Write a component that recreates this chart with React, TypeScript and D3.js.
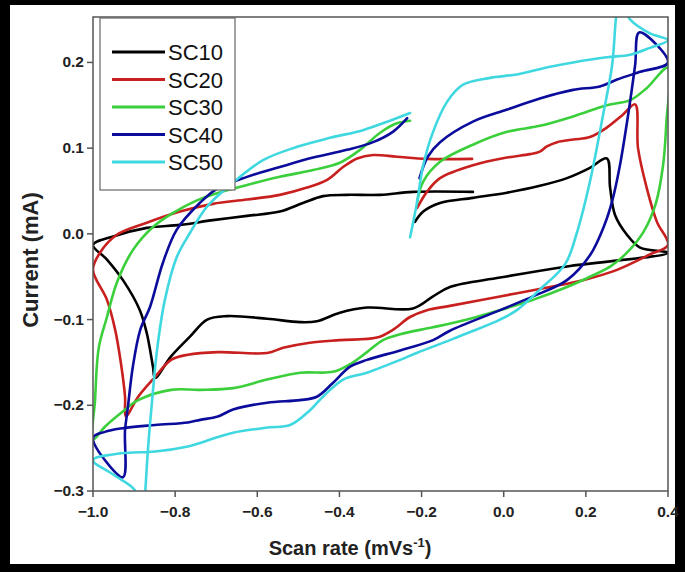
import React from "react";
import * as d3 from "d3";

const seriesNames = ["SC10", "SC20", "SC30", "SC40", "SC50"];
const seriesColors = ["#000000", "#c8201e", "#3ccf3c", "#0c0c9c", "#40d8e0"];

const xTicks = [-1.0, -0.8, -0.6, -0.4, -0.2, 0.0, 0.2, 0.4];
const yTicks = [0.2, 0.1, 0.0, -0.1, -0.2, -0.3];

const sc10: [number, number][] = [
  [-0.216, 0.014], [-0.196, 0.026], [-0.155, 0.036], [-0.075, 0.042], [0.008, 0.048], [0.088, 0.056],
  [0.154, 0.065], [0.21, 0.077], [0.251, 0.088], [0.259, 0.054], [0.271, 0.022], [0.3, -0.001],
  [0.332, -0.016], [0.4, -0.022], [0.154, -0.038], [-0.009, -0.051], [-0.131, -0.062], [-0.172, -0.073],
  [-0.221, -0.087], [-0.333, -0.086], [-0.399, -0.092], [-0.455, -0.102], [-0.496, -0.103], [-0.576, -0.099],
  [-0.674, -0.096], [-0.722, -0.1], [-0.764, -0.12], [-0.81, -0.143], [-0.849, -0.168], [-0.854, -0.155],
  [-0.869, -0.116], [-0.886, -0.089], [-0.927, -0.054], [-0.966, -0.03], [-1.0, -0.013], [-0.951, -0.003],
  [-0.869, 0.007], [-0.788, 0.0105], [-0.708, 0.016], [-0.625, 0.021], [-0.545, 0.026], [-0.489, 0.036],
  [-0.44, 0.044], [-0.382, 0.0455], [-0.301, 0.0455], [-0.221, 0.049], [-0.075, 0.049],
];

const sc20: [number, number][] = [
  [-0.211, 0.03], [-0.187, 0.049], [-0.155, 0.065], [-0.075, 0.08], [0.008, 0.089], [0.064, 0.093],
  [0.088, 0.096], [0.105, 0.102], [0.13, 0.107], [0.17, 0.11], [0.21, 0.113], [0.251, 0.124],
  [0.29, 0.139], [0.32, 0.151], [0.327, 0.1], [0.348, 0.054], [0.373, 0.014], [0.4, -0.013],
  [0.356, -0.024], [0.276, -0.042], [0.193, -0.054], [0.113, -0.062], [-0.009, -0.073], [-0.131, -0.084],
  [-0.187, -0.089], [-0.228, -0.097], [-0.27, -0.112], [-0.309, -0.121], [-0.399, -0.124], [-0.472, -0.127],
  [-0.537, -0.133], [-0.576, -0.139], [-0.696, -0.138], [-0.769, -0.141], [-0.81, -0.147], [-0.849, -0.167],
  [-0.89, -0.19], [-0.92, -0.213], [-0.922, -0.19], [-0.932, -0.151], [-0.946, -0.112], [-0.966, -0.077],
  [-1.0, -0.042], [-0.983, -0.022], [-0.942, -0.001], [-0.869, 0.013], [-0.788, 0.026], [-0.708, 0.035],
  [-0.625, 0.04], [-0.545, 0.0455], [-0.479, 0.054], [-0.43, 0.063], [-0.391, 0.078], [-0.357, 0.088],
  [-0.318, 0.092], [-0.26, 0.09], [-0.187, 0.0875], [-0.077, 0.0875],
];

const sc30: [number, number][] = [
  [-0.211, 0.037], [-0.196, 0.061], [-0.155, 0.084], [-0.075, 0.104], [0.008, 0.119], [0.088, 0.126],
  [0.169, 0.137], [0.251, 0.15], [0.308, 0.156], [0.348, 0.17], [0.4, 0.194], [0.396, 0.13],
  [0.388, 0.08], [0.37, 0.035], [0.34, 0.002], [0.3, -0.022], [0.26, -0.038], [0.21, -0.05],
  [0.154, -0.062], [0.071, -0.077], [-0.009, -0.089], [-0.089, -0.1], [-0.172, -0.109], [-0.252, -0.117],
  [-0.294, -0.124], [-0.333, -0.138], [-0.374, -0.152], [-0.416, -0.161], [-0.496, -0.162], [-0.576, -0.17],
  [-0.659, -0.18], [-0.739, -0.182], [-0.81, -0.182], [-0.89, -0.194], [-0.932, -0.209], [-0.971, -0.225],
  [-1.0, -0.24], [-0.995, -0.194], [-0.986, -0.133], [-0.966, -0.097], [-0.942, -0.057], [-0.903, -0.019],
  [-0.854, 0.008], [-0.805, 0.0245], [-0.747, 0.039], [-0.708, 0.046], [-0.625, 0.057], [-0.545, 0.0665],
  [-0.464, 0.0745], [-0.399, 0.083], [-0.35, 0.098], [-0.301, 0.118], [-0.26, 0.129], [-0.228, 0.132],
];

const sc40: [number, number][] = [
  [-0.205, 0.065], [-0.185, 0.09], [-0.155, 0.107], [-0.075, 0.131], [0.008, 0.145], [0.088, 0.158],
  [0.169, 0.168], [0.234, 0.172], [0.276, 0.18], [0.332, 0.189], [0.4, 0.2], [0.33, 0.235],
  [0.32, 0.197], [0.303, 0.139], [0.283, 0.08], [0.265, 0.04], [0.245, 0.01], [0.21, -0.025],
  [0.154, -0.054], [0.071, -0.073], [-0.009, -0.089], [-0.131, -0.113], [-0.172, -0.124], [-0.252, -0.136],
  [-0.333, -0.147], [-0.374, -0.155], [-0.416, -0.174], [-0.455, -0.19], [-0.496, -0.194], [-0.576, -0.197],
  [-0.659, -0.205], [-0.696, -0.213], [-0.739, -0.217], [-0.769, -0.22], [-0.849, -0.223], [-0.932, -0.227],
  [-0.971, -0.231], [-1.0, -0.238], [-0.927, -0.284], [-0.922, -0.229], [-0.915, -0.202], [-0.903, -0.155],
  [-0.885, -0.112], [-0.861, -0.085], [-0.83, -0.034], [-0.796, 0.005], [-0.74, 0.036], [-0.7, 0.052],
  [-0.625, 0.0665], [-0.545, 0.078], [-0.464, 0.089], [-0.382, 0.098], [-0.318, 0.107], [-0.27, 0.119],
  [-0.235, 0.135],
];

const sc50: [number, number][] = [
  [-0.228, -0.004], [-0.211, 0.037], [-0.196, 0.08], [-0.172, 0.119], [-0.138, 0.154], [-0.099, 0.174],
  [-0.033, 0.182], [0.032, 0.186], [0.113, 0.195], [0.169, 0.2], [0.251, 0.206], [0.308, 0.209],
  [0.356, 0.217], [0.4, 0.226], [0.356, 0.234], [0.308, 0.25], [0.29, 0.265], [0.278, 0.265],
  [0.273, 0.25], [0.264, 0.197], [0.242, 0.139], [0.21, 0.061], [0.178, 0.001], [0.15, -0.035],
  [0.088, -0.065], [0.032, -0.089], [-0.009, -0.1], [-0.089, -0.116], [-0.131, -0.124], [-0.212, -0.139],
  [-0.252, -0.147], [-0.333, -0.162], [-0.391, -0.17], [-0.44, -0.19], [-0.479, -0.209], [-0.52, -0.223],
  [-0.576, -0.226], [-0.659, -0.232], [-0.696, -0.237], [-0.739, -0.244], [-0.769, -0.248], [-0.849, -0.254],
  [-0.932, -0.256], [-1.0, -0.264], [-0.95, -0.281], [-0.898, -0.299], [-0.888, -0.318], [-0.876, -0.318],
  [-0.873, -0.302], [-0.866, -0.25], [-0.856, -0.194], [-0.844, -0.135], [-0.825, -0.077], [-0.796, -0.027],
  [-0.764, 0.001], [-0.722, 0.032], [-0.666, 0.057], [-0.586, 0.086], [-0.503, 0.1015], [-0.423, 0.112],
  [-0.343, 0.121], [-0.277, 0.132], [-0.228, 0.141],
];

const seriesData = [sc10, sc20, sc30, sc40, sc50];

const W = 685;
const H = 572;
const left = 93, right = 668, top = 17, bottom = 491;

export default function App() {
  const x = d3.scaleLinear().domain([-1.0, 0.4]).range([left, right]);
  const y = d3.scaleLinear().domain([-0.3, 0.253]).range([bottom, top]);
  const line = d3
    .line<[number, number]>()
    .x((d) => x(d[0]))
    .y((d) => y(d[1]))
    .curve(d3.curveCatmullRom.alpha(0.5));
  const font = "'Liberation Sans', Arial, sans-serif";
  const axisColor = "#555";
  return (
    <svg width={W} height={H} style={{ position: "absolute", left: 0, top: 0 }}>
      <rect x={0} y={0} width={W} height={H} fill="#000" />
      <rect x={10} y={5} width={W - 20} height={H - 13} fill="#fff" />
      <defs>
        <clipPath id="plotclip">
          <rect x={left} y={top} width={right - left} height={bottom - top} />
        </clipPath>
      </defs>
      <g clipPath="url(#plotclip)">
        {seriesData.map((d, i) => (
          <path
            key={seriesNames[i]}
            d={line(d) || ""}
            fill="none"
            stroke={seriesColors[i]}
            strokeWidth={2.6}
            strokeLinejoin="round"
            strokeLinecap="round"
          />
        ))}
      </g>
      <rect x={left} y={top} width={right - left} height={bottom - top} fill="none" stroke={axisColor} strokeWidth={1.5} />
      {xTicks.map((t) => (
        <g key={"x" + t}>
          <line x1={x(t)} x2={x(t)} y1={bottom} y2={bottom + 6} stroke={axisColor} strokeWidth={1.5} />
          <text
            x={x(t)}
            y={bottom + 26}
            textAnchor="middle"
            fontFamily={font}
            fontWeight="bold"
            fontSize={15.5}
            fill="#222"
          >
            {d3.format(".1f")(t)}
          </text>
        </g>
      ))}
      {yTicks.map((t) => (
        <g key={"y" + t}>
          <line x1={left - 6} x2={left} y1={y(t)} y2={y(t)} stroke={axisColor} strokeWidth={1.5} />
          <text
            x={left - 9}
            y={y(t) + 5}
            textAnchor="end"
            fontFamily={font}
            fontWeight="bold"
            fontSize={15.5}
            fill="#222"
          >
            {d3.format(".1f")(t)}
          </text>
        </g>
      ))}
      <text x={350} y={555} textAnchor="middle" fontFamily={font} fontWeight="bold" fontSize={20} fill="#222">
        Scan rate (mVs
        <tspan fontSize={13} dy={-8}>-1</tspan>
        <tspan dy={8}>)</tspan>
      </text>
      <text
        transform={`translate(38, 260) rotate(-90)`}
        textAnchor="middle"
        fontFamily={font}
        fontWeight="bold"
        fontSize={22}
        fill="#222"
      >
        Current (mA)
      </text>
      <rect x={100} y={18} width={135} height={172} fill="#fff" stroke="#666" strokeWidth={1.2} />
      {seriesNames.map((n, i) => {
        const ly = 52 + i * 27.5;
        return (
          <g key={"lg" + n}>
            <line x1={112} x2={165} y1={ly} y2={ly} stroke={seriesColors[i]} strokeWidth={3} />
            <text x={168} y={ly + 8} fontFamily={font} fontSize={22} fill="#111">
              {n}
            </text>
          </g>
        );
      })}
    </svg>
  );
}
